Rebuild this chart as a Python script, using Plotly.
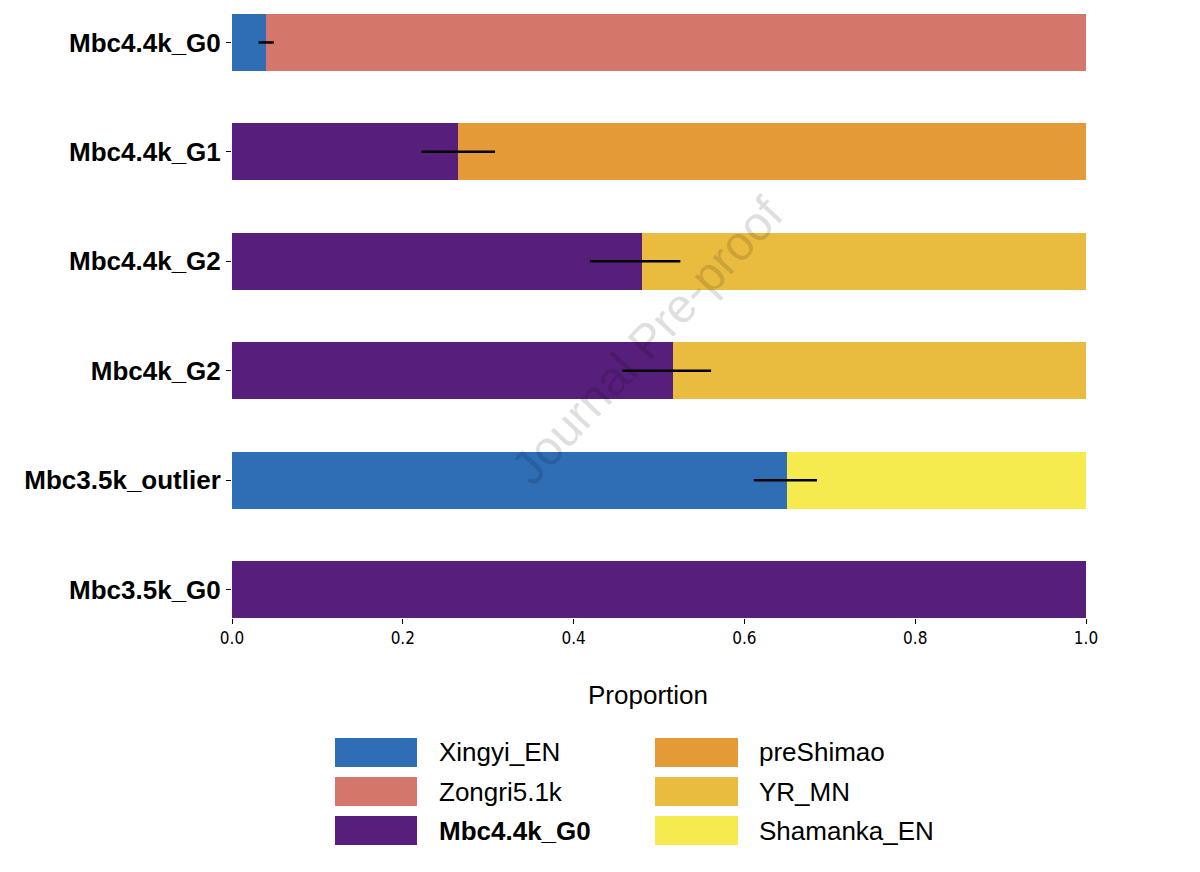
import plotly.graph_objects as go

groups = ["Mbc4.4k_G0", "Mbc4.4k_G1", "Mbc4.4k_G2", "Mbc4k_G2", "Mbc3.5k_outlier", "Mbc3.5k_G0"]

sources = ["Xingyi_EN", "Zongri5.1k", "Mbc4.4k_G0", "preShimao", "YR_MN", "Shamanka_EN"]
colors = ["#2F6DB5", "#D5766A", "#571E7B", "#E49A37", "#E9BB3F", "#F5EB4E"]

# proportion of each source per group (same order as groups)
xingyi_en = [0.04, 0, 0, 0, 0.65, 0]
zongri = [0.96, 0, 0, 0, 0, 0]
mbc44k_g0 = [0, 0.265, 0.48, 0.516, 0, 1.0]
preshimao = [0, 0.735, 0, 0, 0, 0]
yr_mn = [0, 0, 0.52, 0.484, 0, 0]
shamanka_en = [0, 0, 0, 0, 0.35, 0]

# standard errors (centre and half width)
err_center = [0.04, 0.265, 0.472, 0.509, 0.648]
err_half = [0.009, 0.043, 0.053, 0.052, 0.037]
err_groups = groups[:5]

W, H = 1200, 872
OFF = 8  # page margin of the browser
L, R, T, B = 232 - OFF, 1086 - OFF, 14 - OFF, 618 - OFF


def paper_x(px):
    return (px - OFF - L) / (R - L)


def paper_y(py):
    return (B - (py - OFF)) / (B - T)


fig = go.Figure()
series = [xingyi_en, zongri, mbc44k_g0, preshimao, yr_mn, shamanka_en]
for name, col, vals in zip(sources, colors, series):
    fig.add_trace(go.Bar(
        y=groups, x=vals, name=name, orientation="h",
        marker=dict(color=col, line=dict(width=0)),
        width=0.52, showlegend=False,
    ))

fig.add_trace(go.Scatter(
    y=err_groups, x=err_center, mode="markers",
    marker=dict(size=1, color="rgba(0,0,0,0)"),
    error_x=dict(type="data", array=err_half, color="black", thickness=2.5, width=0),
    showlegend=False, hoverinfo="skip",
))

# hand made legend with big colour patches
legend_rows = [(738, 767), (777, 806), (816, 845)]
legend_cols = [(335, 417, 437), (655, 738, 757)]
shapes = []
annots = []
for i, (name, col) in enumerate(zip(sources, colors)):
    x0, x1, tx = legend_cols[i // 3]
    y0, y1 = legend_rows[i % 3]
    shapes.append(dict(type="rect", xref="paper", yref="paper",
                       x0=paper_x(x0), x1=paper_x(x1), y0=paper_y(y1), y1=paper_y(y0),
                       fillcolor=col, line=dict(width=0)))
    annots.append(dict(xref="paper", yref="paper", x=paper_x(tx), y=paper_y((y0 + y1) / 2),
                       text=name, showarrow=False, xanchor="left", yanchor="middle",
                       font=dict(family="Liberation Sans, Arial", size=26, color="black",
                                 weight="bold" if name == "Mbc4.4k_G0" else "normal")))

annots.append(dict(xref="paper", yref="paper", x=paper_x(648), y=paper_y(695),
                   text="Proportion", showarrow=False, xanchor="center", yanchor="middle",
                   font=dict(family="Liberation Sans, Arial", size=26, color="black")))

annots.append(dict(xref="paper", yref="paper", x=paper_x(647), y=paper_y(340),
                   text="Journal Pre-proof", showarrow=False, textangle=-47,
                   font=dict(family="Liberation Sans, Arial", size=48, color="rgba(0,0,0,0.14)")))

fig.update_layout(
    width=W, height=H,
    margin=dict(l=L, r=W - R, t=T, b=H - B),
    barmode="stack",
    plot_bgcolor="white", paper_bgcolor="white",
    shapes=shapes, annotations=annots,
    xaxis=dict(range=[0, 1], tickvals=[0, 0.2, 0.4, 0.6, 0.8, 1.0],
               ticktext=["0.0", "0.2", "0.4", "0.6", "0.8", "1.0"],
               ticks="outside", ticklen=5, tickcolor="black", showgrid=False,
               zeroline=False, showline=False,
               tickfont=dict(family="DejaVu Sans Condensed, DejaVu Sans", size=17, color="black")),
    yaxis=dict(range=[5.26, -0.26], type="category",
               ticks="outside", ticklen=5, tickcolor="black", showgrid=False,
               zeroline=False, showline=False,
               tickfont=dict(family="Liberation Sans, Arial", size=26, color="black", weight="bold")),
)

fig.write_html("out.html")
